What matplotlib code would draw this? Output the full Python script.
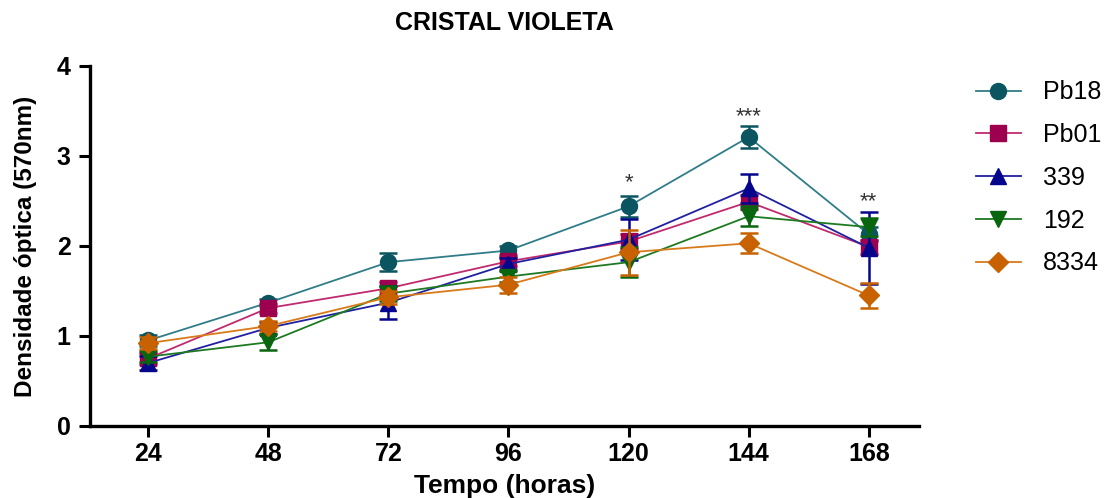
import matplotlib.pyplot as plt
import numpy as np

plt.rcParams['font.family'] = ['Liberation Sans', 'DejaVu Sans']

# time points (hours)
horas = [24, 48, 72, 96, 120, 144, 168]

# mean optical density for each strain
pb18 = [0.95, 1.37, 1.82, 1.95, 2.44, 3.21, 2.13]
pb01 = [0.75, 1.31, 1.53, 1.83, 2.05, 2.49, 1.99]
s339 = [0.70, 1.09, 1.37, 1.80, 2.07, 2.64, 1.98]
s192 = [0.77, 0.93, 1.47, 1.66, 1.82, 2.33, 2.21]
s8334 = [0.92, 1.11, 1.43, 1.57, 1.93, 2.03, 1.45]

# standard error
err_pb18 = [0.06, 0.04, 0.10, 0.05, 0.12, 0.12, 0.08]
err_pb01 = [0.06, 0.05, 0.07, 0.05, 0.08, 0.08, 0.08]
err_339 = [0.08, 0.07, 0.18, 0.07, 0.23, 0.16, 0.40]
err_192 = [0.06, 0.09, 0.08, 0.06, 0.17, 0.11, 0.10]
err_8334 = [0.07, 0.06, 0.07, 0.09, 0.25, 0.11, 0.14]

series = [
    ('Pb18', pb18, err_pb18, '#0a5560', '#2f7d88', 'o'),
    ('Pb01', pb01, err_pb01, '#9e0050', '#c02a6e', 's'),
    ('339', s339, err_339, '#06068c', '#2020a0', '^'),
    ('192', s192, err_192, '#0a650f', '#1e7a22', 'v'),
    ('8334', s8334, err_8334, '#c86200', '#d97a1a', 'D'),
]

# significance marks above Pb18
sig_x = [120, 144, 168]
sig_y = [2.70, 3.44, 2.49]
sig_txt = ['*', '***', '**']

fig = plt.figure(figsize=(11.2, 4.98), dpi=100)
ax = fig.add_axes([0.0804, 0.1446, 0.74, 0.7229])

for nome, y, e, cor, cor_linha, mk in series:
    ax.errorbar(horas, y, yerr=e, color=cor, ecolor=cor, elinewidth=1.8,
                capsize=6.5, capthick=1.8, lw=0)
    ax.plot(horas, y, color=cor_linha, lw=1.3, marker=mk, ms=11.5 if mk != 'D' else 10.5,
            mfc=cor, mec=cor, label=nome)

for x, y, t in zip(sig_x, sig_y, sig_txt):
    ax.text(x, y, t, ha='center', va='center', fontsize=16, color='#333333')

ax.set_xlim(12.4, 178)
ax.set_ylim(0, 4)
ax.set_xticks(horas)
ax.set_yticks([0, 1, 2, 3, 4])
ax.tick_params(labelsize=18, width=2.2, length=8)
ax.tick_params(axis='y', pad=6)
for lab in ax.get_xticklabels() + ax.get_yticklabels():
    lab.set_fontweight('bold')
for s in ['top', 'right']:
    ax.spines[s].set_visible(False)
for s in ['left', 'bottom']:
    ax.spines[s].set_linewidth(2.4)

ax.set_xlabel('Tempo (horas)', fontsize=19, fontweight='bold', labelpad=6)
ax.set_ylabel('Densidade óptica (570nm)', fontsize=17.5, fontweight='bold', labelpad=14)
ax.set_title('CRISTAL VIOLETA', fontsize=18, fontweight='bold', pad=26)

fig.legend(loc='upper left', bbox_to_anchor=(0.851, 0.884), frameon=False,
           fontsize=18, handlelength=1.8, labelspacing=0.75, handletextpad=0.9,
           borderpad=0.4)

fig.savefig('out.png', dpi=100)
